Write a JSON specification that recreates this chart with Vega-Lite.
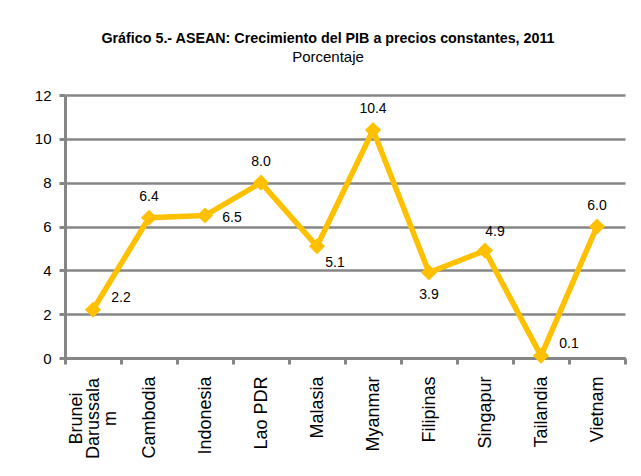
{
  "$schema": "https://vega.github.io/schema/vega-lite/v6.json",
  "width": 560,
  "height": 263,
  "autosize": {"type": "none"},
  "padding": {"left": 65, "top": 95, "right": 16, "bottom": 118},
  "background": "white",
  "title": {
    "text": "Gráfico 5.- ASEAN: Crecimiento del PIB a precios constantes, 2011",
    "subtitle": "Porcentaje",
    "anchor": "middle",
    "frame": "group",
    "dx": -17,
    "offset": 23,
    "font": "Liberation Sans, Arial",
    "fontSize": 14.3,
    "fontWeight": "bold",
    "color": "#000000",
    "subtitleFont": "Liberation Sans, Arial",
    "subtitleFontSize": 15,
    "subtitleColor": "#000000",
    "subtitlePadding": 4
  },
  "config": {
    "view": {"stroke": null},
    "axis": {"labelFont": "Liberation Sans, Arial", "labelColor": "#000000"}
  },
  "data": {
    "values": [
      {"pais": "Brunei Darussalam", "valor": 2.2},
      {"pais": "Cambodia", "valor": 6.4},
      {"pais": "Indonesia", "valor": 6.5},
      {"pais": "Lao PDR", "valor": 8.0},
      {"pais": "Malasia", "valor": 5.1},
      {"pais": "Myanmar", "valor": 10.4},
      {"pais": "Filipinas", "valor": 3.9},
      {"pais": "Singapur", "valor": 4.9},
      {"pais": "Tailandia", "valor": 0.1},
      {"pais": "Vietnam", "valor": 6.0}
    ]
  },
  "encoding": {
    "x": {
      "field": "pais",
      "type": "nominal",
      "sort": null,
      "bandPosition": 0.5,
      "scale": {"type": "band", "paddingInner": 0, "paddingOuter": 0},
      "axis": {
        "title": null,
        "labelAngle": -90,
        "labelFontSize": 18,
        "labelExpr": "datum.value == 'Brunei Darussalam' ? ['Brunei', 'Darussala', 'm'] : datum.value",
        "labelLineHeight": 17,
        "labelAlign": {"condition": {"test": "datum.value == 'Brunei Darussalam'", "value": "center"}, "value": "right"},
        "labelPadding": {"condition": {"test": "datum.value == 'Brunei Darussalam'", "value": 54}, "value": 12},
        "labelOffset": {"condition": {"test": "datum.value == 'Brunei Darussalam'", "value": -17}, "value": 0},
        "tickBand": "extent",
        "domainColor": "#868686",
        "domainWidth": 3,
        "tickColor": "#868686",
        "tickWidth": 3,
        "tickSize": 6,
        "grid": false
      }
    },
    "y": {
      "field": "valor",
      "type": "quantitative",
      "scale": {"domain": [0, 12], "nice": false},
      "axis": {
        "title": null,
        "values": [0, 2, 4, 6, 8, 10, 12],
        "labelFontSize": 15,
        "labelPadding": 8,
        "tickColor": "#868686",
        "tickWidth": 3,
        "tickSize": 6,
        "domainColor": "#868686",
        "domainWidth": 3,
        "gridColor": "#868686",
        "gridWidth": 2.5
      }
    }
  },
  "layer": [
    {"mark": {"type": "line", "color": "#FFC000", "strokeWidth": 5.5}},
    {"mark": {"type": "point", "shape": "diamond", "filled": true, "opacity": 1, "color": "#FFC000", "size": 260}},
    {
      "transform": [{"filter": {"field": "pais", "oneOf": ["Cambodia", "Lao PDR", "Myanmar", "Vietnam"]}}],
      "mark": {"type": "text", "dy": -21, "fontSize": 14, "font": "Liberation Sans, Arial", "color": "#000000"},
      "encoding": {"text": {"field": "valor", "format": ".1f"}}
    },
    {
      "transform": [{"filter": {"field": "pais", "oneOf": ["Singapur"]}}],
      "mark": {"type": "text", "dx": 10, "dy": -19, "fontSize": 14, "font": "Liberation Sans, Arial", "color": "#000000"},
      "encoding": {"text": {"field": "valor", "format": ".1f"}}
    },
    {
      "transform": [{"filter": {"field": "pais", "oneOf": ["Brunei Darussalam", "Tailandia"]}}],
      "mark": {"type": "text", "dx": 28, "dy": -12, "fontSize": 14, "font": "Liberation Sans, Arial", "color": "#000000"},
      "encoding": {"text": {"field": "valor", "format": ".1f"}}
    },
    {
      "transform": [{"filter": {"field": "pais", "oneOf": ["Indonesia"]}}],
      "mark": {"type": "text", "dx": 27, "dy": 2, "fontSize": 14, "font": "Liberation Sans, Arial", "color": "#000000"},
      "encoding": {"text": {"field": "valor", "format": ".1f"}}
    },
    {
      "transform": [{"filter": {"field": "pais", "oneOf": ["Malasia"]}}],
      "mark": {"type": "text", "dx": 18, "dy": 17, "fontSize": 14, "font": "Liberation Sans, Arial", "color": "#000000"},
      "encoding": {"text": {"field": "valor", "format": ".1f"}}
    },
    {
      "transform": [{"filter": {"field": "pais", "oneOf": ["Filipinas"]}}],
      "mark": {"type": "text", "dy": 22, "fontSize": 14, "font": "Liberation Sans, Arial", "color": "#000000"},
      "encoding": {"text": {"field": "valor", "format": ".1f"}}
    }
  ]
}
